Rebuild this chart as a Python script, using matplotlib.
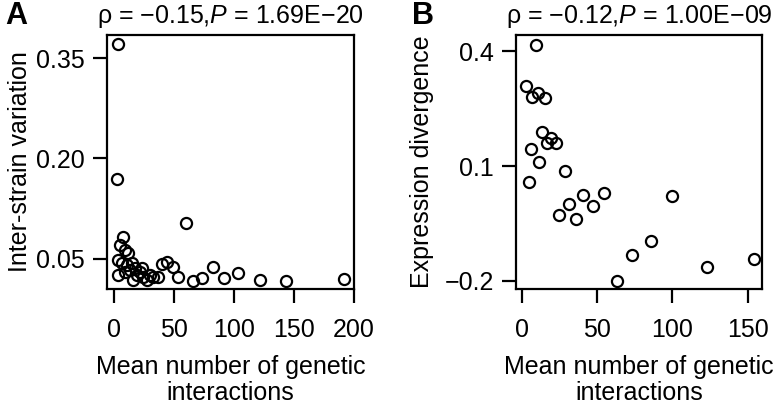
import matplotlib
matplotlib.use("Agg")
import matplotlib.pyplot as plt

plt.rcParams['font.family'] = ['Liberation Sans', 'DejaVu Sans']
plt.rcParams['mathtext.fontset'] = 'custom'
plt.rcParams['mathtext.rm'] = 'Liberation Sans'
plt.rcParams['mathtext.it'] = 'Liberation Sans:italic'

# Panel A data
a_x = [3.1, 2.2, 59.7, 7.5, 5, 9.2, 11.9, 3.6, 6.4, 10.6, 14.7, 3.6, 9.2, 13.3,
       16.1, 18.9, 23.1, 24.4, 27.2, 30, 32.8, 36.9, 21.7, 17.5, 39.7, 43.9,
       49.4, 53.6, 66.1, 73.6, 82.2, 91.9, 103, 122, 143, 192]
a_y = [0.371, 0.1696, 0.103, 0.083, 0.071, 0.0635, 0.0585, 0.0485, 0.0435, 0.041,
       0.0435, 0.026, 0.031, 0.0335, 0.0185, 0.026, 0.036, 0.0235, 0.0185, 0.026,
       0.0235, 0.0235, 0.031, 0.036, 0.042, 0.045, 0.0385, 0.0235, 0.0175, 0.021,
       0.0385, 0.021, 0.0285, 0.0185, 0.0175, 0.0195]

# Panel B data
b_x = [8.9, 2.5, 6.7, 10.7, 15.1, 12.9, 19.1, 16.7, 22.5, 5.8, 11.1, 4.5, 28.5,
       40.7, 54.7, 31.3, 46.9, 24.7, 35.8, 100, 85.6, 73.3, 62.9, 123.3, 154.5]
b_y = [0.416, 0.3095, 0.281, 0.290, 0.278, 0.1895, 0.172, 0.159, 0.161, 0.144,
       0.111, 0.059, 0.087, 0.0243, 0.0288, 0.0009, -0.0044, -0.028, -0.039,
       0.0217, -0.0957, -0.133, -0.199, -0.1635, -0.143]

a_xticks = [0, 50, 100, 150, 200]
a_yticks = [0.05, 0.20, 0.35]
a_yticklabels = ['0.05', '0.20', '0.35']
b_xticks = [0, 50, 100, 150]
b_yticks = [-0.2, 0.1, 0.4]
b_yticklabels = ['\u22120.2', '0.1', '0.4']

W, H = 777, 404
fig = plt.figure(figsize=(W / 100, H / 100), dpi=100)

FS = 18
axA = fig.add_axes([107 / W, (H - 289) / H, 247 / W, 254 / H])
axB = fig.add_axes([516 / W, (H - 289) / H, 246 / W, 254 / H])

for ax in (axA, axB):
    for s in ax.spines.values():
        s.set_linewidth(1.6)
    ax.tick_params(direction='out', length=10, width=1.6, labelsize=FS)
    ax.tick_params(axis='x', pad=11)
    ax.tick_params(axis='y', pad=6)

axA.plot(a_x, a_y, 'o', mfc='none', mec='black', ms=8, mew=1.6)
axA.set_xlim(-5.83, 200)
axA.set_ylim(0.005, 0.3845)
axA.set_xticks(a_xticks)
axA.set_yticks(a_yticks)
axA.set_yticklabels(a_yticklabels)
axA.set_ylabel('Inter-strain variation', fontsize=FS)
axA.yaxis.set_label_coords(-0.304, 0.5)
axA.set_xlabel('Mean number of genetic\ninteractions', fontsize=FS, labelpad=9,
               linespacing=1.1)
axA.set_title('\u03c1 = \u22120.15,$P$ = 1.69E\u221220', fontsize=FS, pad=9)

axB.plot(b_x, b_y, 'o', mfc='none', mec='black', ms=8, mew=1.6)
axB.set_xlim(-4.2, 159.6)
axB.set_ylim(-0.221, 0.442)
axB.set_xticks(b_xticks)
axB.set_yticks(b_yticks)
axB.set_yticklabels(b_yticklabels)
axB.set_ylabel('Expression divergence', fontsize=FS)
axB.yaxis.set_label_coords(-0.333, 0.5)
axB.set_xlabel('Mean number of genetic\ninteractions', fontsize=FS, labelpad=9,
               linespacing=1.1)
axB.set_title('\u03c1 = \u22120.12,$P$ = 1.00E\u221209', fontsize=FS, pad=9)

fig.text(16 / W, 1 - 16 / H, 'A', fontsize=22, fontweight='bold', ha='center', va='center')
fig.text(423 / W, 1 - 16 / H, 'B', fontsize=22, fontweight='bold', ha='center', va='center')

fig.savefig('out.png', dpi=100)
